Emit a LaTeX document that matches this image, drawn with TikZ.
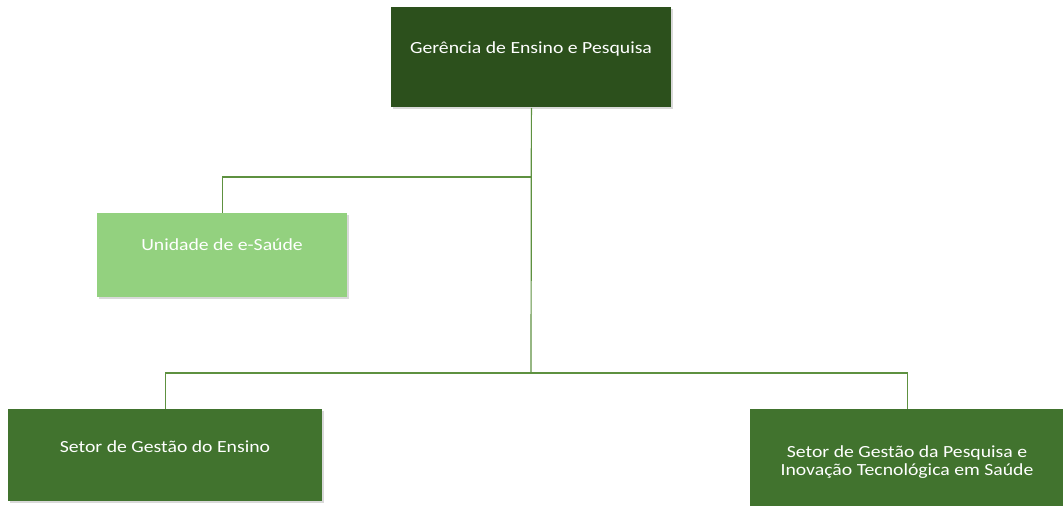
\documentclass[tikz,border=0pt]{standalone}
\usepackage{fontspec}
\setmainfont{Carlito}[FakeStretch=1.16]
\usetikzlibrary{calc,positioning,shadows}
\definecolor{deep}{HTML}{2C501C}
\definecolor{leaf}{HTML}{41732E}
\definecolor{mint}{HTML}{93D17F}
\definecolor{stem}{HTML}{5E9140}
\tikzset{
  orgbox/.style={draw=none,rectangle,inner sep=0pt,anchor=north west,
    drop shadow={opacity=0.3,shadow xshift=0.6pt,shadow yshift=-1pt}},
  headbox/.style={orgbox,fill=deep,minimum width=140pt,minimum height=50pt},
  unitbox/.style={orgbox,fill=mint,minimum width=125pt,minimum height=42pt},
  sectorbox/.style={orgbox,fill=leaf,minimum width=157pt,minimum height=46pt},
  boxtext/.style={text=white,align=center,anchor=base,inner sep=0pt,
    font=\fontsize{8.5}{9}\selectfont},
  link/.style={draw=stem,line width=0.6pt}
}
\begin{document}
\begin{tikzpicture}[x=0.5pt,y=-0.5pt]
  \useasboundingbox (0,0) rectangle (1063,506);
  % boxes
  \node[headbox] (ger) at (391,7) {};
  \node[unitbox] (usa) at (97,213) {};
  \node[sectorbox] (sge) at (8,409) {};
  \node[sectorbox,minimum height=60pt] (sgp) at (750,409) {};
  % texts
  \node[boxtext] (gerT) at (531,54) {Gerência de Ensino e Pesquisa};
  \node[boxtext] (usaT) at (222,251) {Unidade de e-Saúde};
  \node[boxtext] (sgeT) at (165,452) {Setor de Gestão do Ensino};
  \node[boxtext] (sgpT) at (907,475) {Setor de Gestão da Pesquisa e\\Inovação Tecnológica em Saúde};
  % connectors
  \coordinate (j1) at (531,177);
  \coordinate (j2) at (531,373);
  \draw[link] (ger.south) -- (j2);
  \draw[link] (j1) -| (usa.north);
  \draw[link] (sge.north) |- (j2) -| (sgp.north);
\end{tikzpicture}
\end{document}
